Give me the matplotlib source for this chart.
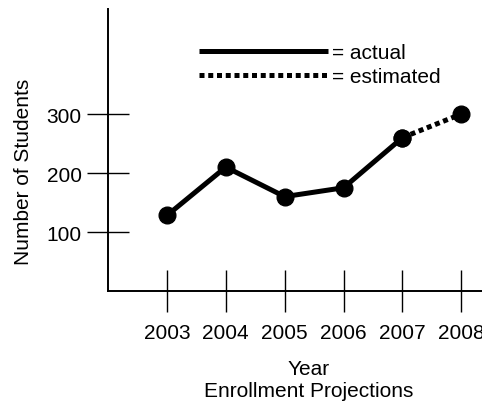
import matplotlib.pyplot as plt

# values
years = [2003, 2004, 2005, 2006, 2007, 2008]
actual = [128, 210, 160, 175, 260]
estimated = [260, 300]
yticks = [100, 200, 300]

plt.rcParams['font.family'] = ['Liberation Sans', 'DejaVu Sans']

fig = plt.figure(figsize=(4.82, 4.02), dpi=100)
W, H = 482, 402
ax = fig.add_axes([108 / W, (H - 292) / H, (W - 108) / W, (292 - 10) / H])

ax.plot(years[:5], actual, color='black', lw=3.6, solid_capstyle='butt',
        marker='o', ms=12, label='= actual', clip_on=False, zorder=3)
ax.plot(years[4:], estimated, color='black', lw=3.6, dashes=(1, 0.75),
        dash_capstyle='butt', marker='o', ms=12, label='= estimated',
        clip_on=False, zorder=3)

ax.set_xlim(2002, 2008.35)
ax.set_ylim(0, 478)
ax.set_xticks(years)
ax.set_yticks(yticks)
ax.tick_params(direction='inout', length=30, width=1.0, labelsize=15,
               color='black', labelcolor='black')
ax.tick_params(axis='x', pad=8)
ax.tick_params(axis='y', pad=4)

for s in ['top', 'right']:
    ax.spines[s].set_visible(False)
for s in ['left', 'bottom']:
    ax.spines[s].set_linewidth(1.4)

ax.set_xlabel('Year\nEnrollment Projections', fontsize=15, linespacing=1.2)
ax.xaxis.set_label_coords(0.537, -0.24, transform=ax.transAxes)
ax.xaxis.label.set_va('top')
ax.set_ylabel('Number of Students', fontsize=15)
ax.yaxis.set_label_coords(-0.2, 0.427)

leg = ax.legend(loc='upper left', bbox_to_anchor=(199 / W, 1 - 44 / H),
                bbox_transform=fig.transFigure, frameon=False, fontsize=15,
                handlelength=6.2, handletextpad=0.2, labelspacing=0.25,
                borderpad=0, borderaxespad=0)
for h in leg.get_lines():
    h.set_marker('')

fig.savefig('out.png', dpi=100)
